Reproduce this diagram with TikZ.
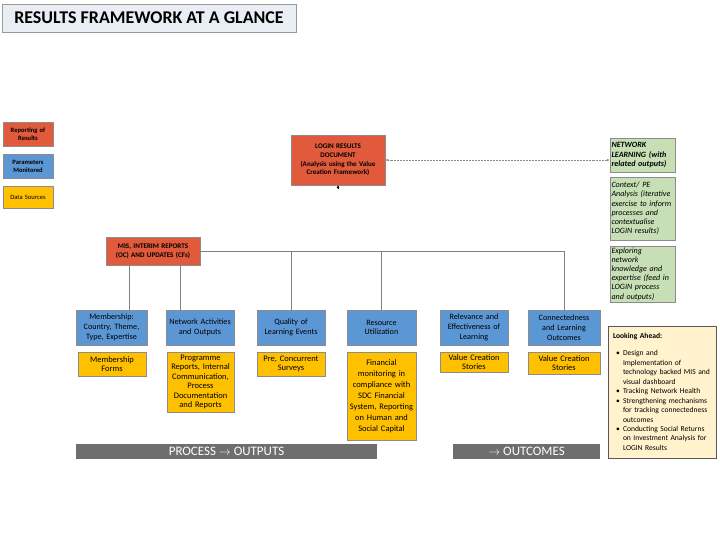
\documentclass[tikz,border=0pt]{standalone}
\usepackage{fontspec}
\setmainfont{Carlito}
\usepackage{enumitem}
\usetikzlibrary{arrows.meta,shadows}
\definecolor{reportred}{HTML}{E05A3B}
\definecolor{parablue}{HTML}{5B97D5}
\definecolor{sourcegold}{HTML}{FFC000}
\definecolor{netgreen}{HTML}{C6DFB5}
\definecolor{aheadcream}{HTML}{FFF2CC}
\definecolor{bargray}{HTML}{6E6E6E}
\definecolor{titlefill}{HTML}{E9EEF5}
\newcommand\nohyph{\hyphenpenalty=10000\relax}
\begin{document}
\begin{tikzpicture}
        [
            x=1bp, y=-1bp,
            box/.style={rectangle, draw=black!45, line width=0.5bp, inner xsep=1.5bp, inner ysep=0.5bp, align=center,
                font=\fontsize{8.2}{9.8}\selectfont, drop shadow={shadow xshift=1.2bp, shadow yshift=-1.2bp, opacity=0.45}},
            reportbox/.style={box, fill=reportred, font=\fontsize{7.1}{8.6}\selectfont\bfseries},
            parabox/.style={box, fill=parablue},
            sourcebox/.style={box, fill=sourcegold, font=\fontsize{8.5}{9.6}\selectfont},
            netbox/.style={box, fill=netgreen, align=left, font=\fontsize{8.1}{9.2}\selectfont\itshape\nohyph},
            legendbox/.style={box, font=\fontsize{6.6}{8}\selectfont},
            barbox/.style={rectangle, fill=bargray, text=white, inner sep=0pt, font=\fontsize{13}{14}\selectfont},
            link/.style={draw=black!50, line width=0.6bp}
        ]
        \useasboundingbox (0,0) rectangle (720,540);
        % title
        \node[rectangle, draw=black!40, fill=titlefill, line width=0.8bp, minimum width=294bp, minimum height=28bp,
            font=\fontsize{18}{19}\selectfont\bfseries] (title) at (149,18) {RESULTS FRAMEWORK AT A GLANCE};
        % legend
        \node[legendbox, fill=reportred, text width=47bp, minimum height=24bp, font=\fontsize{6.6}{8}\selectfont\bfseries]
            (legreport) at (28,134) {Reporting of\\Results};
        \node[legendbox, fill=parablue, text width=47bp, minimum height=24bp, font=\fontsize{6.6}{8}\selectfont\bfseries]
            (legpara) at (28,166) {Parameters\\Monitored};
        \node[legendbox, fill=sourcegold, text width=47bp, minimum height=22bp] (legsource) at (28,197) {Data Sources};
        % reporting
        \node[reportbox, text width=91bp, minimum height=50bp] (login) at (338,160)
            {LOGIN RESULTS\\DOCUMENT\\(Analysis using the Value\\Creation Framework)};
        \node[reportbox, text width=91bp, minimum height=28bp] (mis) at (153,251)
            {MIS, INTERIM REPORTS\\(OC) AND UPDATES (CFs)};
        \coordinate (loginin) at (338,189.5);
        % network learning
        \node[netbox, text width=62bp, minimum height=34bp] (netlearn) at (642.5,155)
            {\textbf{NETWORK\\LEARNING (with\\related outputs)}};
        \node[netbox, text width=62bp, minimum height=63bp] (context) at (642.5,208.5)
            {Context/ PE\\Analysis (iterative\\exercise to inform\\processes and\\contextualise\\LOGIN results)};
        \node[netbox, text width=62bp, minimum height=56bp] (explore) at (642.5,274)
            {Exploring\\network\\knowledge and\\expertise (feed in\\LOGIN process\\and outputs)};
        % parameters monitored
        \node[parabox, text width=68bp, minimum height=35bp] (member) at (111.5,327.5) {Membership:\\Country, Theme,\\Type, Expertise};
        \node[parabox, text width=65bp, minimum height=35bp] (activity) at (200,327.5) {Network Activities\\and Outputs};
        \node[parabox, text width=65bp, minimum height=35bp] (quality) at (291,327.5) {Quality of\\Learning Events};
        \node[parabox, text width=66bp, minimum height=35bp] (resource) at (381.5,327.5) {Resource\\Utilization};
        \node[parabox, text width=65bp, minimum height=35bp] (relevance) at (474,327.5) {Relevance and\\Effectiveness of\\Learning};
        \node[parabox, text width=69bp, minimum height=35bp] (connect) at (564,327.5) {Connectedness\\and Learning\\Outcomes};
        % data sources
        \node[sourcebox, text width=65bp, minimum height=24bp] (memforms) at (112,364) {Membership\\Forms};
        \node[sourcebox, text width=64bp, minimum height=60bp] (programme) at (200.5,382)
            {Programme\\Reports, Internal\\Communication,\\Process\\Documentation\\and Reports};
        \node[sourcebox, text width=65bp, minimum height=24bp] (surveys) at (291,364) {Pre, Concurrent\\Surveys};
        \node[sourcebox, text width=66bp, minimum height=88bp, font=\fontsize{8.5}{11}\selectfont] (finance) at (381.5,396)
            {Financial\\monitoring in\\compliance with\\SDC Financial\\System, Reporting\\on Human and\\Social Capital};
        \node[sourcebox, text width=65bp, minimum height=20bp] (stories) at (474,362) {Value Creation\\Stories};
        \node[sourcebox, text width=69bp, minimum height=22bp] (storiestwo) at (564,363) {Value Creation\\Stories};
        % looking ahead
        \node[box, fill=aheadcream, draw=black!65, line width=0.8bp, align=left, text width=98bp, minimum height=132bp,
            inner xsep=5bp, font=\fontsize{7.6}{9.5}\selectfont\nohyph] (ahead) at (662,392)
            {\textbf{Looking Ahead:}\par
             \begin{itemize}[leftmargin=10bp, labelsep=3bp, itemsep=0pt, parsep=0pt, topsep=5.5bp, label=\textbullet]
             \item Design and\\Implementation of\\technology backed MIS and\\visual dashboard
             \item Tracking Network Health
             \item Strengthening mechanisms\\for tracking connectedness\\outcomes
             \item Conducting Social Returns\\on Investment Analysis for\\LOGIN Results
             \end{itemize}};
        % bars
        \node[barbox, minimum width=301bp, minimum height=15bp] (process) at (226.5,451.5) {PROCESS $\rightarrow$ OUTPUTS};
        \node[barbox, minimum width=147bp, minimum height=15bp] (outcome) at (526.5,451.5) {$\rightarrow$ OUTCOMES};
        % connectors
        \draw[{Latex[length=3bp,width=2.5bp]}-{Latex[length=3bp,width=2.5bp]}, black!45, densely dotted, line width=0.5bp]
            (login.east) -- (login.east -| netlearn.west);
        \draw[-{Latex[length=3bp,width=3bp]}, black] (loginin) -- (login.south);
        \draw[link] (mis.east) -| (connect.north);
        \draw[link] (quality.north) -- (quality.north |- mis.east);
        \draw[link] (resource.north) -- (resource.north |- mis.east);
        \draw[link] ([xshift=-24bp]mis.south) -- ([xshift=-24bp]mis.south |- member.north);
        \draw[link] ([xshift=27bp]mis.south) -- ([xshift=27bp]mis.south |- activity.north);
\end{tikzpicture}
\end{document}
